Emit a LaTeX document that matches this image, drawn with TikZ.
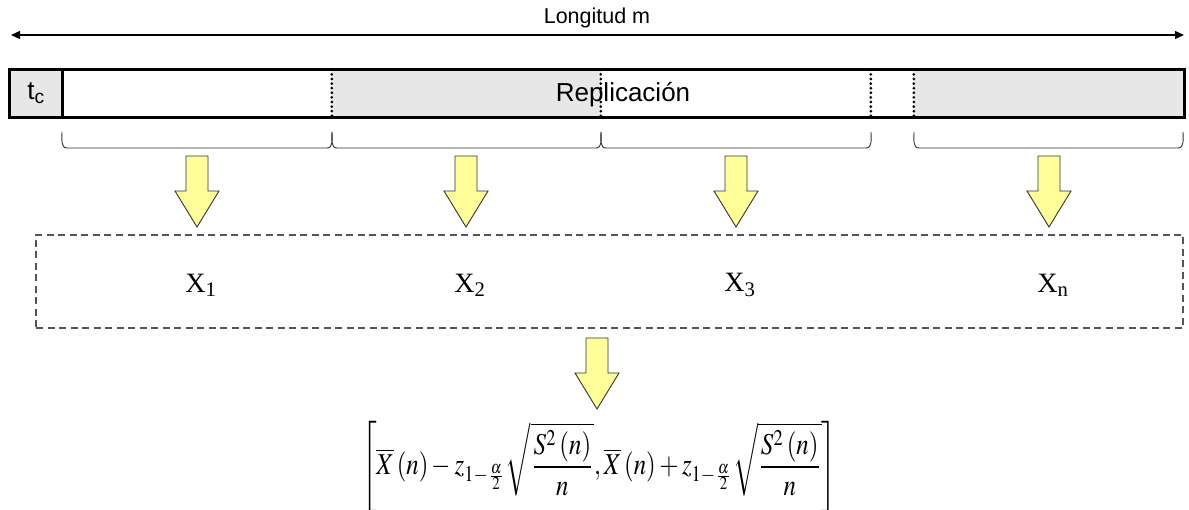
\documentclass[tikz,border=0pt]{standalone}
\usepackage{mathptmx}
\usepackage{fontspec}
\setmainfont{Liberation Serif}
\newfontfamily\labelsans{Liberation Sans}
\usepackage{graphicx}
\usepackage{tikz}
\usetikzlibrary{arrows.meta,positioning}
\definecolor{bargrey}{RGB}{231,231,231}
\definecolor{arrowyellow}{RGB}{255,255,153}
\definecolor{edgegrey}{RGB}{51,51,51}
\definecolor{dashgrey}{RGB}{85,85,85}
\tikzset{
  whitecell/.style={fill=white,inner sep=0pt,minimum height=47},
  greycell/.style={fill=bargrey,inner sep=0pt,minimum height=47},
  barline/.style={line width=2.8pt,draw=black},
  divider/.style={line width=3pt,line cap=round,dash pattern=on 0pt off 4.6pt},
  span/.style={{Triangle[length=9pt,width=8pt]}-{Triangle[length=9pt,width=8pt]},
    line width=1.2pt},
  bracket/.style={draw=edgegrey,line width=0.9pt},
  yarrow/.pic={\draw[draw=edgegrey,fill=arrowyellow,line width=0.9pt,line join=miter]
    (-11,0) -- (11,0) -- (11,35) -- (22,35) -- (0,71) -- (-22,35) -- (-11,35) -- cycle;},
  samplebox/.style={draw=dashgrey,line width=1.3pt,dash pattern=on 7pt off 4.5pt,
    inner sep=0pt},
  sampletext/.style={font=\fontsize{28}{32}\selectfont},
  labeltext/.style={font=\labelsans\fontsize{21.5}{25}\selectfont},
  celltext/.style={font=\labelsans\fontsize{26}{30}\selectfont}
}
\begin{document}
\begin{tikzpicture}[x=1pt,y=-1pt]
  \useasboundingbox (0,0) rectangle (1189,510);
  % length of the run
  \node[labeltext] (len) at (597,18) {Longitud m};
  \coordinate (lenL) at (11,35);
  \coordinate (lenR) at (1184,35);
  \draw[span] (lenL) -- (lenR);
  % the replication bar
  \node[greycell,minimum width=52] (tc) at (36,93.5) {};
  \node[whitecell,minimum width=270] (seg1) at (197,93.5) {};
  \node[greycell,minimum width=269] (seg2) at (466.5,93.5) {};
  \node[whitecell,minimum width=270] (seg3) at (736,93.5) {};
  \node[whitecell,minimum width=43] (seg4) at (892.5,93.5) {};
  \node[greycell,minimum width=270] (seg5) at (1049,93.5) {};
  \draw[divider] (seg2.north west) -- (seg2.south west);
  \draw[divider] (seg3.north west) -- (seg3.south west);
  \draw[divider] (seg4.north west) -- (seg4.south west);
  \draw[divider] (seg5.north west) -- (seg5.south west);
  \draw[barline] (tc.north west) rectangle (seg5.south east);
  \draw[barline] (tc.north east) -- (tc.south east);
  \node[celltext] (tclabel) at (tc) {t\textsubscript{c}};
  \node[celltext] (rep) at (623,95) {Replicación};
  % brackets under the batches
  \foreach \a/\b in {62/332,332/601,601/871,914/1183}
    \draw[bracket] (\a,132) to[out=-90,in=180] (\a+5,148) -- (\b-5,148)
      to[out=0,in=-90] (\b,132);
  \pic at (197,156) {yarrow};
  \pic at (466,156) {yarrow};
  \pic at (736,156) {yarrow};
  \pic at (1049,156) {yarrow};
  % batch means
  \node[samplebox,minimum width=1147,minimum height=93] (sample) at (609.5,281.5) {};
  \node[sampletext] (x1) at (201,285) {X\textsubscript{1}};
  \node[sampletext] (x2) at (470,285) {X\textsubscript{2}};
  \node[sampletext] (x3) at (740,285) {X\textsubscript{3}};
  \node[sampletext] (xn) at (1053,285) {X\textsubscript{n}};
  \pic at (597,338) {yarrow};
  % confidence interval
  \node[inner sep=0pt] (ci) at (599,467) {\resizebox{474pt}{!}{\scalebox{1}[1.22]{$\displaystyle
    \left[\overline{X}\left(n\right)-z_{1-\frac{\alpha}{2}}\sqrt{\frac{S^{2}\left(n\right)}{n}},
    \overline{X}\left(n\right)+z_{1-\frac{\alpha}{2}}\sqrt{\frac{S^{2}\left(n\right)}{n}}\right]$}}};
\end{tikzpicture}
\end{document}
